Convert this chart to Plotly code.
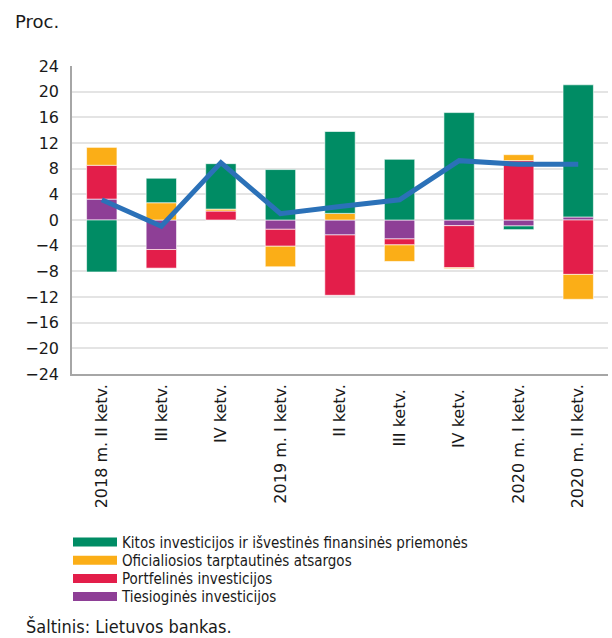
import plotly.graph_objects as go

categories = ["2018 m. II ketv.", "III ketv.", "IV ketv.", "2019 m. I ketv.", "II ketv.",
              "III ketv. ", "IV ketv. ", "2020 m. I ketv.", "2020 m. II ketv."]

tiesiogines = [3.26, -4.6, 0.0, -1.45, -2.33, -2.95, -0.88, -0.93, 0.47]
portfelines = [5.27, -2.9, 1.4, -2.64, -9.4, -0.93, -6.56, 9.25, -8.48]
oficialiosios = [2.79, 2.69, 0.3, -3.2, 1.03, -2.58, -0.15, 0.93, -3.88]
kitos = [-8.1, 3.82, 7.08, 7.86, 12.76, 9.46, 16.74, -0.57, 20.6]
total = [3.15, -0.98, 8.94, 0.98, 2.1, 3.15, 9.25, 8.68, 8.68]

y_ticks = list(range(-24, 25, 4))

names = ["Tiesioginės investicijos", "Portfelinės investicijos",
         "Oficialiosios tarptautinės atsargos",
         "Kitos investicijos ir išvestinės finansinės priemonės"]
colors = ["#8E3F96", "#E31E4A", "#FBAE17", "#008C64"]
series = [tiesiogines, portfelines, oficialiosios, kitos]

font_main = "DejaVu Sans"
font_narrow = "DejaVu Sans Condensed, DejaVu Sans"

L, R, T, B = 72, 4, 66, 264
W, H = 612, 638
pw, ph = W - L - R, H - T - B


def px(x):
    return (x - L) / pw


def py(y):
    return (H - B - y) / ph


fig = go.Figure()
for name, col, vals in zip(names, colors, series):
    fig.add_trace(go.Bar(x=categories, y=vals, name=name, marker_color=col,
                         marker_line=dict(color="rgba(255,255,255,0.6)", width=1),
                         showlegend=False))

fig.add_trace(go.Scatter(x=categories, y=total, mode="lines",
                         line=dict(color="#2B71B8", width=5), showlegend=False))

# legend entries (wide swatches), one legend per row for exact spacing
legend_ids = ["legend", "legend2", "legend3", "legend4"]
row_centers = [540.7, 559.0, 577.3, 595.3]
legend_layout = {}
for lid, (name, col), yc in zip(legend_ids, reversed(list(zip(names, colors))), row_centers):
    fig.add_trace(go.Scatter(x=[None], y=[None], mode="lines", name=name, legend=lid,
                             line=dict(color=col, width=9)))
    legend_layout[lid] = dict(orientation="v", x=px(68), xanchor="left",
                              y=py(yc - 15), yanchor="top",
                              font=dict(family=font_narrow, size=15, color="#1a1a1a"),
                              itemwidth=44, bgcolor="rgba(0,0,0,0)")

fig.update_layout(
    width=W, height=H,
    barmode="relative", bargap=0.49,
    plot_bgcolor="white", paper_bgcolor="white",
    margin=dict(l=L, r=R, t=T, b=B, autoexpand=False),
    font=dict(family=font_main, size=14, color="#1a1a1a"),
    showlegend=True,
    xaxis=dict(tickangle=-90, showgrid=False, showline=True, linecolor="#a6a6a6",
               linewidth=1.5, ticks="", tickfont=dict(size=16), ticklabelstandoff=2,
               fixedrange=True),
    yaxis=dict(range=[-24, 24], tickvals=y_ticks, showgrid=True, gridcolor="#e4e4e4",
               gridwidth=1.5, zeroline=False, showline=True, linecolor="#a6a6a6",
               linewidth=1.5, ticks="", tickfont=dict(size=16), ticklabelstandoff=8,
               fixedrange=True),
    annotations=[
        dict(text="Proc.", x=px(13), y=py(21), xref="paper", yref="paper", showarrow=False,
             xanchor="left", yanchor="middle",
             font=dict(family=font_main, size=18, color="#1a1a1a")),
        dict(text="Šaltinis: Lietuvos bankas.", x=px(24), y=py(626), xref="paper", yref="paper",
             showarrow=False, xanchor="left", yanchor="middle",
             font=dict(family=font_narrow, size=18, color="#1a1a1a")),
    ],
    **legend_layout,
)

fig.write_html("out.html", config={"displayModeBar": False},
               post_script="document.body.style.margin='0px';")
